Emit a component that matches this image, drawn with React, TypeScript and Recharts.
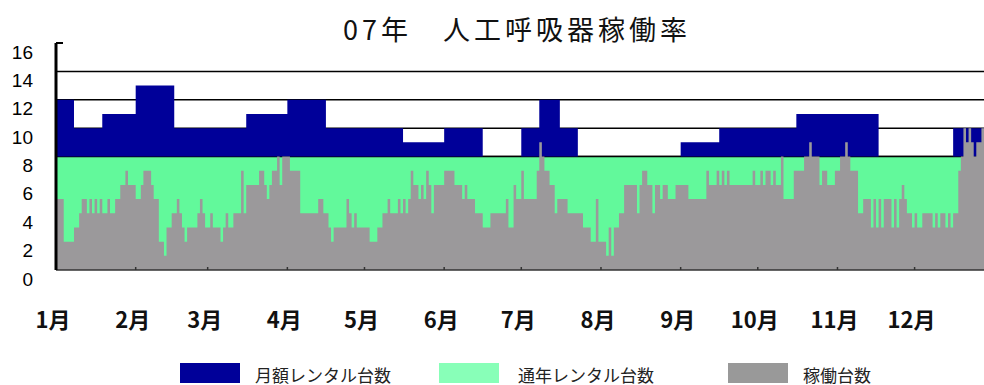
import React from 'react';
import {
  ComposedChart,
  Area,
  XAxis,
  YAxis,
  CartesianGrid,
  Legend
} from 'recharts';

// month labels and the day each month starts on (day 0 = Jan 1)
const monthLabels = ['1月', '2月', '3月', '4月', '5月', '6月', '7月', '8月', '9月', '10月', '11月', '12月'];
const monthStarts = [0, 31, 59, 90, 120, 151, 181, 212, 243, 273, 304, 334];
const yTicks = [0, 2, 4, 6, 8, 10, 12, 14, 16];
const gridValues = [8, 10, 12, 14];

// 通年レンタル台数 (flat all year)
const annualUnits = 8;

// 月額レンタル台数: day the level changes, units on top of the annual ones
const monthlyFrom = [0, 7, 18, 31, 46, 74, 90, 105, 135, 151, 166, 181, 188, 196, 203, 243, 258, 288, 320, 349];
const monthlyUnits = [4, 2, 3, 5, 2, 3, 4, 2, 1, 2, 0, 2, 4, 2, 0, 1, 2, 3, 0, 2];

// 稼働台数, one value per day
const activeUnits = [
  // Jan
  5, 5, 5, 2, 2, 2, 2, 3, 3, 4, 5, 5, 4, 5, 4, 5, 4, 5, 4, 4, 5, 4, 4, 5, 5, 6, 6, 7, 6, 6, 6,
  // Feb
  5, 5, 6, 7, 7, 7, 6, 5, 5, 2, 2, 1, 3, 3, 4, 4, 5, 4, 3, 2, 3, 3, 3, 3, 4, 5, 4, 3,
  // Mar
  3, 4, 3, 3, 3, 2, 3, 4, 3, 3, 4, 4, 4, 7, 4, 6, 6, 6, 6, 6, 7, 7, 6, 5, 6, 7, 7, 8, 6, 8, 8,
  // Apr
  8, 7, 7, 7, 7, 4, 4, 4, 4, 4, 4, 4, 5, 5, 4, 4, 3, 2, 3, 3, 3, 3, 3, 5, 4, 3, 4, 3, 3, 3,
  // May
  3, 3, 2, 2, 2, 3, 3, 4, 4, 5, 4, 4, 4, 5, 4, 5, 4, 5, 7, 6, 6, 5, 6, 5, 7, 6, 4, 6, 6, 6, 6,
  // Jun
  7, 7, 7, 7, 6, 6, 6, 5, 6, 5, 5, 5, 4, 4, 4, 3, 3, 3, 4, 4, 4, 4, 4, 4, 5, 3, 3, 6, 5, 5,
  // Jul
  7, 5, 5, 5, 5, 5, 7, 9, 8, 7, 7, 6, 6, 4, 5, 5, 5, 5, 4, 4, 4, 4, 4, 4, 3, 3, 3, 2, 2, 5, 2,
  // Aug
  2, 2, 1, 3, 1, 3, 3, 4, 4, 6, 6, 6, 6, 6, 4, 6, 7, 7, 6, 6, 4, 6, 6, 5, 6, 6, 5, 5, 5, 6, 6,
  // Sep
  6, 6, 6, 5, 5, 5, 5, 5, 5, 5, 7, 6, 6, 6, 7, 6, 7, 6, 7, 6, 6, 6, 6, 6, 6, 6, 6, 6, 7, 6,
  // Oct
  6, 7, 6, 7, 7, 6, 7, 6, 6, 8, 5, 5, 5, 5, 7, 7, 7, 7, 8, 8, 9, 8, 8, 8, 6, 7, 7, 6, 6, 6, 7,
  // Nov
  7, 8, 8, 9, 8, 7, 7, 7, 4, 4, 5, 5, 5, 3, 5, 3, 5, 3, 5, 5, 5, 3, 5, 3, 5, 6, 5, 4, 4, 3,
  // Dec (chart is cut off before the last days)
  4, 3, 3, 4, 4, 4, 4, 3, 4, 3, 4, 4, 3, 4, 3, 4, 4, 7, 8, 10, 9, 10, 9, 8, 9, 9, 10
];

const legendItems = [
  { label: '月額レンタル台数', color: '#000099', swatchX: 180, textX: 255 },
  { label: '通年レンタル台数', color: '#88ffb8', swatchX: 439, textX: 518 },
  { label: '稼働台数', color: '#999999', swatchX: 728, textX: 803 }
];

const monthlyFor = (day: number) => {
  let units = monthlyUnits[0];
  monthlyFrom.forEach((start, i) => {
    if (day >= start) units = monthlyUnits[i];
  });
  return units;
};

// one row per day, plus a closing row so the last step is drawn
const chartData = Array.from({ length: activeUnits.length + 1 }, (_, day) => ({
  day,
  annual: annualUnits,
  monthly: monthlyFor(day),
  active: activeUnits[Math.min(day, activeUnits.length - 1)]
}));

const FONT_JP = '"Noto Sans CJK JP", "Noto Sans", sans-serif';

const YTick = (props: any) => {
  const { x, y, payload } = props;
  return (
    <g>
      {payload.value === 16 && (
        <line x1={x} y1={y} x2={x + 7} y2={y} stroke="#000" strokeWidth={2} />
      )}
      <text
        x={x - 23}
        y={y + 9}
        textAnchor="end"
        dominantBaseline="central"
        fontFamily='"Liberation Sans", Arial, sans-serif'
        fontSize={19}
        fill="#000"
      >
        {payload.value}
      </text>
    </g>
  );
};

const XTick = (props: any) => {
  const { x, y, payload, index } = props;
  const label = monthLabels[monthStarts.indexOf(payload.value)];
  return (
    <g>
      {index > 0 && (
        <line x1={x} y1={y - 3} x2={x} y2={y} stroke="#333" strokeWidth={1.5} />
      )}
      <text
        x={x - 3}
        y={y + 48}
        textAnchor="middle"
        dominantBaseline="central"
        fontFamily={FONT_JP}
        fontSize={22}
        fontWeight={700}
        fill="#111"
      >
        {label}
      </text>
    </g>
  );
};

const LegendContent = () => (
  <svg width={984} height={25} style={{ display: 'block' }}>
    {legendItems.map(item => (
      <g key={item.label}>
        <rect x={item.swatchX} y={3} width={60} height={20} fill={item.color} />
        <text
          x={item.textX}
          y={14}
          dominantBaseline="central"
          fontFamily={FONT_JP}
          fontSize={17}
          fill="#222"
        >
          {item.label}
        </text>
      </g>
    ))}
  </svg>
);

export default function App() {
  return (
    <div
      style={{
        position: 'fixed',
        left: 0,
        top: 0,
        width: 984,
        height: 385,
        overflow: 'hidden',
        background: '#fff'
      }}
    >
      <div
        style={{
          position: 'absolute',
          left: 0,
          top: 11,
          width: 1034,
          textAlign: 'center',
          fontFamily: FONT_JP,
          fontSize: 27,
          letterSpacing: 4,
          color: '#111',
          whiteSpace: 'nowrap',
          lineHeight: '36px'
        }}
      >
        07年　人工呼吸器稼働率
      </div>
      <ComposedChart
        width={984}
        height={385}
        data={chartData}
        margin={{ top: 43, right: 0, left: 0, bottom: 55 }}
        style={{ position: 'absolute', left: 0, top: 0 }}
      >
        <CartesianGrid
          horizontal
          vertical={false}
          horizontalValues={gridValues}
          stroke="#000"
          strokeWidth={1.5}
        />
        <XAxis
          dataKey="day"
          type="number"
          domain={[0, activeUnits.length]}
          ticks={monthStarts}
          interval={0}
          height={60}
          tickSize={0}
          tickMargin={0}
          tick={<XTick />}
          axisLine={{ stroke: '#333', strokeWidth: 1.5 }}
          tickLine={false}
        />
        <YAxis
          type="number"
          domain={[0, 16]}
          ticks={yTicks}
          interval={0}
          width={56}
          tickSize={0}
          tickMargin={0}
          tick={<YTick />}
          axisLine={{ stroke: '#000', strokeWidth: 3 }}
          tickLine={false}
        />
        <Legend
          layout="horizontal"
          verticalAlign="middle"
          align="center"
          content={<LegendContent />}
          wrapperStyle={{ left: 0, top: 360, width: 984, height: 25 }}
        />
        <Area
          type="stepAfter"
          dataKey="annual"
          name="通年レンタル台数"
          stackId="rental"
          fill="#62f99b"
          fillOpacity={1}
          stroke="#000"
          strokeWidth={1.5}
          isAnimationActive={false}
        />
        <Area
          type="stepAfter"
          dataKey="monthly"
          name="月額レンタル台数"
          stackId="rental"
          fill="#000099"
          fillOpacity={1}
          stroke="none"
          isAnimationActive={false}
        />
        <Area
          type="stepAfter"
          dataKey="active"
          name="稼働台数"
          fill="#9b999b"
          fillOpacity={1}
          stroke="none"
          isAnimationActive={false}
        />
      </ComposedChart>
    </div>
  );
}
